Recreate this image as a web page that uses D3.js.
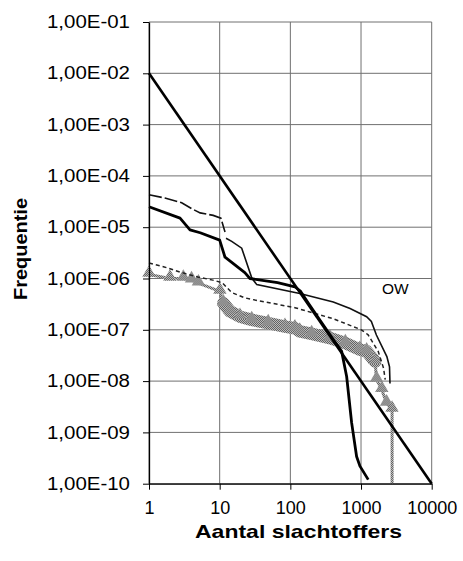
<!DOCTYPE html>
<html>
<head>
<meta charset="utf-8">
<script src="https://cdn.jsdelivr.net/npm/d3@7"></script>
<style>
  body { margin: 0; background: #fff; }
  svg { display: block; font-family: "Liberation Sans", Arial, sans-serif; }
</style>
</head>
<body>
<div id="chart"></div>
<script>
// ---- data ----
const xTicks = [1, 10, 100, 1000, 10000];
const xTickLabels = ['1', '10', '100', '1000', '10000'];
const yTicks = [1e-10, 1e-9, 1e-8, 1e-7, 1e-6, 1e-5, 1e-4, 1e-3, 1e-2, 1e-1];
const yTickLabels = ['1,00E-10', '1,00E-09', '1,00E-08', '1,00E-07', '1,00E-06',
                     '1,00E-05', '1,00E-04', '1,00E-03', '1,00E-02', '1,00E-01'];

// orientation value line (OW)
const owN = [1, 10000];
const owF = [1e-2, 1e-10];

// thick black curve
const aN = [1, 2.75, 3.8, 5.3, 10, 11.9, 22.7, 26.8, 66, 116, 140, 180, 250, 400, 532, 626, 736, 866, 965, 1265];
const aF = [2.5e-5, 1.5e-5, 8.9e-6, 7.8e-6, 5.6e-6, 2.6e-6, 1.3e-6, 1.0e-6, 8.3e-7, 6.9e-7, 5.6e-7, 3.3e-7, 1.7e-7, 6.6e-8, 3.8e-8, 1.23e-8, 1.55e-9, 3.4e-10, 2.2e-10, 1.2e-10];

// thin black curve (dashed at the start)
const bN = [1, 1.68, 2.9, 4.0, 5.3, 8.1, 10.4, 11.9, 12.3, 14.8, 20.5, 28.5, 33.5, 136, 405, 700, 1200, 1400, 1650, 2320, 2530, 2570];
const bF = [4.3e-5, 3.7e-5, 3.0e-5, 2.3e-5, 1.9e-5, 1.7e-5, 1.5e-5, 8.1e-6, 6.1e-6, 5.3e-6, 3.9e-6, 1.02e-6, 7.6e-7, 5.1e-7, 3.5e-7, 2.6e-7, 1.8e-7, 1.45e-7, 7.9e-8, 3.0e-8, 1.9e-8, 9.0e-9];

// short-dashed curve
const cN = [1, 1.6, 2.93, 4.9, 8.0, 10.8, 14.9, 22.7, 31.6, 116, 400, 1010, 1260, 1750, 2080, 2200];
const cF = [2.0e-6, 1.7e-6, 1.3e-6, 1.07e-6, 9.3e-7, 8.3e-7, 5.3e-7, 4.2e-7, 3.8e-7, 2.7e-7, 1.65e-7, 1.0e-7, 8.0e-8, 3.8e-8, 1.8e-8, 1.07e-8];

// grey triangle series
const dN = [1, 1.98, 3.06, 4.0, 5.0, 10.1, 11.3, 14, 19.4, 28.4, 48.6, 84, 116, 136, 200, 363, 600, 960, 1200, 1580, 1660, 1970, 2300, 2750, 2750];
const dF = [1.2e-6, 1.0e-6, 1.0e-6, 9.3e-7, 8.1e-7, 5.6e-7, 3.3e-7, 2.3e-7, 1.8e-7, 1.56e-7, 1.35e-7, 1.15e-7, 1.07e-7, 9.3e-8, 8.3e-8, 6.9e-8, 5.5e-8, 4.1e-8, 3.8e-8, 2.4e-8, 1.07e-8, 6.8e-9, 3.7e-9, 2.8e-9, 1e-10];

// ---- layout ----
const W = 463, H = 561;
const plot = { left: 149, right: 431.7, top: 22, bottom: 483.7 };

const svg = d3.select('#chart').append('svg')
  .attr('width', W)
  .attr('height', H);

// checker pattern for the grey markers
const defs = svg.append('defs');
const pat = defs.append('pattern')
  .attr('id', 'dither')
  .attr('width', 2).attr('height', 2)
  .attr('patternUnits', 'userSpaceOnUse');
pat.append('rect').attr('width', 2).attr('height', 2).attr('fill', '#bdbdbd');
pat.append('rect').attr('width', 1).attr('height', 1).attr('fill', '#626262');
pat.append('rect').attr('x', 1).attr('y', 1).attr('width', 1).attr('height', 1).attr('fill', '#626262');

const x = d3.scaleLog().domain([1, 10000]).range([plot.left, plot.right]);
const y = d3.scaleLog().domain([1e-10, 1e-1]).range([plot.bottom, plot.top]);

const zip = (ns, fs) => ns.map((n, i) => ({ n, f: fs[i] }));
const line = d3.line().x(d => x(d.n)).y(d => y(d.f));

// gridlines
svg.append('g')
  .selectAll('line.h')
  .data(yTicks)
  .join('line')
  .attr('x1', plot.left).attr('x2', plot.right)
  .attr('y1', d => y(d)).attr('y2', d => y(d))
  .attr('stroke', '#707070')
  .attr('stroke-width', 1);

svg.append('g')
  .selectAll('line.v')
  .data(xTicks)
  .join('line')
  .attr('x1', d => x(d)).attr('x2', d => x(d))
  .attr('y1', plot.top).attr('y2', plot.bottom)
  .attr('stroke', '#707070')
  .attr('stroke-width', 1);

// grey triangle series
const dData = zip(dN, dF);
svg.append('path')
  .datum(dData)
  .attr('fill', 'none')
  .attr('stroke', 'url(#dither)')
  .attr('stroke-width', 3)
  .attr('d', line);

svg.append('path')
  .datum(dData.filter(d => d.n >= 11 && d.n <= 1580))
  .attr('fill', 'none')
  .attr('stroke', 'url(#dither)')
  .attr('stroke-width', 12.5)
  .attr('stroke-linecap', 'round')
  .attr('d', line);

svg.append('g')
  .selectAll('path')
  .data(dData.filter(d => d.f >= 2e-9))
  .join('path')
  .attr('transform', d => `translate(${x(d.n)},${y(d.f) - 1.5})`)
  .attr('d', d3.symbol(d3.symbolTriangle, 78))
  .attr('fill', 'url(#dither)');

// short-dashed curve
svg.append('path')
  .datum(zip(cN, cF))
  .attr('fill', 'none')
  .attr('stroke', '#222')
  .attr('stroke-width', 1.5)
  .attr('stroke-dasharray', '4,3')
  .attr('d', line);

// thin black curve: dashed start, solid after the jump at N=12
const bData = zip(bN, bF);
svg.append('path')
  .datum(bData.filter(d => d.n < 12))
  .attr('fill', 'none')
  .attr('stroke', '#111')
  .attr('stroke-width', 1.6)
  .attr('stroke-dasharray', '13,3')
  .attr('d', line);

svg.append('path')
  .datum(bData.filter(d => d.n >= 12))
  .attr('fill', 'none')
  .attr('stroke', '#111')
  .attr('stroke-width', 1.6)
  .attr('d', line);

// thick black curve
svg.append('path')
  .datum(zip(aN, aF))
  .attr('fill', 'none')
  .attr('stroke', '#000')
  .attr('stroke-width', 2.8)
  .attr('stroke-linejoin', 'round')
  .attr('d', line);

// OW line
svg.append('path')
  .datum(zip(owN, owF))
  .attr('fill', 'none')
  .attr('stroke', '#000')
  .attr('stroke-width', 2.6)
  .attr('d', line);

svg.append('text')
  .attr('x', 382)
  .attr('y', 294)
  .attr('font-size', '15.5px')
  .attr('fill', '#000')
  .text('OW');

// axes
const yAxis = d3.axisLeft(y)
  .tickValues(yTicks)
  .tickFormat((d, i) => yTickLabels[i])
  .tickSize(6)
  .tickSizeOuter(0)
  .tickPadding(13);

const yg = svg.append('g')
  .attr('transform', `translate(${plot.left},0)`)
  .call(yAxis);
yg.select('.domain').attr('stroke', '#000').attr('stroke-width', 1.3);
yg.selectAll('.tick line').attr('stroke', '#000');
yg.selectAll('text')
  .attr('fill', '#000')
  .attr('font-size', '17.5px')
  .attr('font-family', '"Liberation Sans", Arial, sans-serif')
  .attr('textLength', 83)
  .attr('lengthAdjust', 'spacingAndGlyphs');

const xAxis = d3.axisBottom(x)
  .tickValues(xTicks)
  .tickFormat((d, i) => xTickLabels[i])
  .tickSize(6)
  .tickSizeOuter(0)
  .tickPadding(12);

const xg = svg.append('g')
  .attr('transform', `translate(0,${plot.bottom})`)
  .call(xAxis);
xg.select('.domain').attr('stroke', '#000').attr('stroke-width', 1.3);
xg.selectAll('.tick line').attr('stroke', '#000');
xg.selectAll('text')
  .attr('fill', '#000')
  .attr('font-size', '18px')
  .attr('font-family', '"Liberation Sans", Arial, sans-serif');

// axis titles
svg.append('text')
  .attr('x', 298.5)
  .attr('y', 538)
  .attr('text-anchor', 'middle')
  .attr('font-size', '19px')
  .attr('font-weight', 'bold')
  .attr('textLength', 207)
  .attr('lengthAdjust', 'spacingAndGlyphs')
  .text('Aantal slachtoffers');

svg.append('text')
  .attr('transform', 'translate(27,249) rotate(-90)')
  .attr('text-anchor', 'middle')
  .attr('font-size', '18px')
  .attr('font-weight', 'bold')
  .attr('textLength', 102)
  .attr('lengthAdjust', 'spacingAndGlyphs')
  .text('Frequentie');
</script>
</body>
</html>
